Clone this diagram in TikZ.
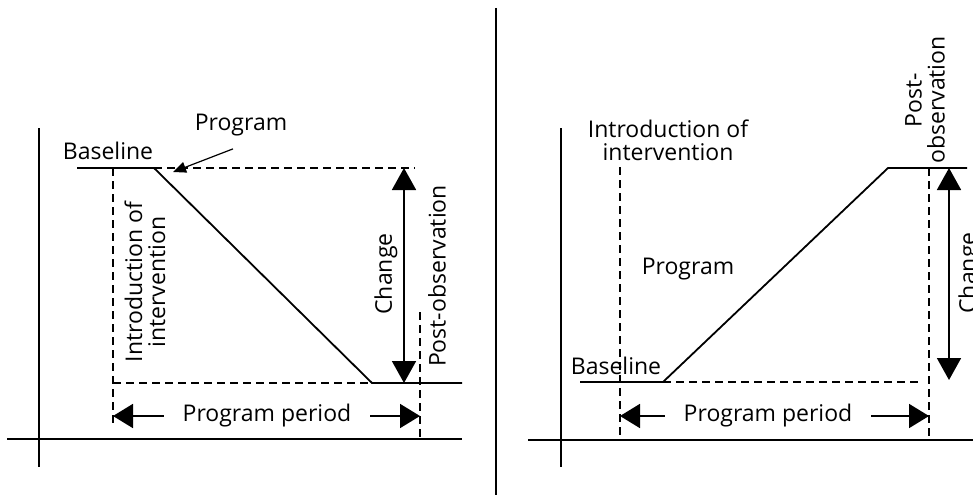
\documentclass[tikz,border=0pt]{standalone}
\usepackage{fontspec}
\setmainfont{Open Sans}
\usetikzlibrary{arrows.meta}

\begin{document}
\begin{tikzpicture}[x=1pt,y=-1pt,line width=1.8pt,
  dashline/.style={dash pattern=on 8pt off 5pt},
  bigtip/.style={-{Triangle[length=20pt,width=24pt]}},
  dbltip/.style={{Triangle[length=22pt,width=24pt]}-{Triangle[length=22pt,width=24pt]}},
  smalltip/.style={line width=1.2pt,-{Triangle[length=13pt,width=11pt]}},
  lbl/.style={font=\fontsize{23}{23}\selectfont,inner sep=0pt,align=center}]
  \useasboundingbox (0,0) rectangle (973,495);

  % divider
  \draw[line width=2pt] (496,8) -- (496,495);

  % left panel: decreasing outcome
  \coordinate (l axis top) at (39,128);
  \coordinate (l axis bottom) at (39,467);
  \coordinate (l axis left) at (7,439);
  \coordinate (l axis right) at (462,439);
  \draw (l axis top) -- (l axis bottom);
  \draw (l axis left) -- (l axis right);

  \coordinate (l base start) at (77,168);
  \coordinate (l base end) at (154,168);
  \coordinate (l prog end) at (372,383);
  \coordinate (l post end) at (462,383);
  \coordinate (l top right) at (415,168);
  \coordinate (l intro top) at (113,168);
  \coordinate (l intro bottom) at (113,423);
  \coordinate (l post top) at (420,312);
  \coordinate (l post bottom) at (420,439);
  \coordinate (l change top) at (404,168);
  \coordinate (l change bottom) at (404,383);
  \coordinate (l program tip) at (173,172);

  \draw (l base start) -- (l base end) -- (l prog end) -- (l post end);
  \draw[dashline] (l base end) -- (l top right);
  \draw[dashline] (l intro top) -- (l intro bottom);
  \draw[dashline] (l intro top |- l prog end) -- (l prog end);
  \draw[dashline] (l post top) -- (l post bottom);
  \draw[dbltip] (l change top) -- (l change bottom);

  \node[lbl] (l baseline) at (108,151) {Baseline};
  \node[lbl] (l program) at (241,125) {Program};
  \draw[smalltip] ([shift={(-8,12)}]l program.south) -- (l program tip);
  \node[lbl,rotate=90] (l intro) at (145,282) {Introduction of\\intervention};
  \node[lbl,rotate=90] (l change) at (386,274) {Change};
  \node[lbl,rotate=90] (l post) at (437,276) {Post-observation};
  \node[lbl] (l period) at (267,416) {Program period};
  \draw[bigtip] ([xshift=-18pt]l period.west) -- (l intro top |- l period);
  \draw[bigtip] ([xshift=18pt]l period.east) -- (l post top |- l period);

  % right panel: increasing outcome
  \coordinate (r axis top) at (561,128);
  \coordinate (r axis bottom) at (561,467);
  \coordinate (r axis left) at (528,440);
  \coordinate (r axis right) at (975,440);
  \draw (r axis top) -- (r axis bottom);
  \draw (r axis left) -- (r axis right);

  \coordinate (r base start) at (580,382);
  \coordinate (r base end) at (663,382);
  \coordinate (r prog end) at (888,168);
  \coordinate (r post end) at (967,168);
  \coordinate (r bottom right) at (920,382);
  \coordinate (r intro top) at (620,167);
  \coordinate (r intro bottom) at (620,440);
  \coordinate (r post top) at (929,168);
  \coordinate (r post bottom) at (929,440);
  \coordinate (r change top) at (949,168);
  \coordinate (r change bottom) at (949,380);

  \draw (r base start) -- (r base end) -- (r prog end) -- (r post end);
  \draw[dashline] (r base end) -- (r bottom right);
  \draw[dashline] (r intro top) -- (r intro bottom);
  \draw[dashline] (r post top) -- (r post bottom);
  \draw[dbltip] (r change top) -- (r change bottom);

  \node[lbl] (r baseline) at (616,366) {Baseline};
  \node[lbl] (r program) at (688,269) {Program};
  \node[lbl] (r intro) at (668,140) {Introduction of\\intervention};
  \node[lbl,rotate=90] (r change) at (970,273) {Change};
  \node[lbl,rotate=90] (r post) at (925,100) {Post-\\observation};
  \node[lbl] (r period) at (768,416) {Program period};
  \draw[bigtip] ([xshift=-18pt]r period.west) -- (r intro top |- r period);
  \draw[bigtip] ([xshift=18pt]r period.east) -- (r post top |- r period);
\end{tikzpicture}
\end{document}
